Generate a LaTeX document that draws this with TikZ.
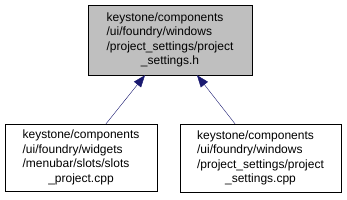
\documentclass[tikz,border=0pt]{standalone}
\usepackage{fontspec}
\setmainfont{Liberation Sans}
\usetikzlibrary{arrows.meta,calc}
\definecolor{edgeblue}{HTML}{191970}
\definecolor{hdrgray}{HTML}{BFBFBF}
\newcommand{\fourlines}[4]{\begin{tabular}{@{}l@{}}#1\\#2\\#3\\\multicolumn{1}{@{}c@{}}{#4}\end{tabular}}

\begin{document}
\begin{tikzpicture}[x=1pt,y=1pt,
  filebox/.style={draw=black,fill=white,inner sep=0pt,
    font=\fontsize{12}{14.5}\selectfont},
  dep/.style={edgeblue,-{Triangle[length=12pt,width=9pt]}}]
\useasboundingbox (0,0) rectangle (347,200);

\node[filebox,fill=hdrgray,minimum width=164,minimum height=70] (hdr) at (170,160)
{\fourlines{keystone/components}{/ui/foundry/windows}{/project\_settings/project}{\_settings.h}};

\node[filebox,minimum width=152,minimum height=67] (slots) at (81,42.5)
{\fourlines{keystone/components}{/ui/foundry/widgets}{/menubar/slots/slots}{\_project.cpp}};
\node[filebox,minimum width=161,minimum height=68] (cpp) at (260.5,42)
{\fourlines{keystone/components}{/ui/foundry/windows}{/project\_settings/project}{\_settings.cpp}};

% includes
\draw[dep] ($(slots.north)+(25,0)$) -- ($(hdr.south)+(-25,0)$);
\draw[dep] ($(cpp.north)+(-25.5,0)$) -- ($(hdr.south)+(27,0)$);
\end{tikzpicture}
\end{document}
